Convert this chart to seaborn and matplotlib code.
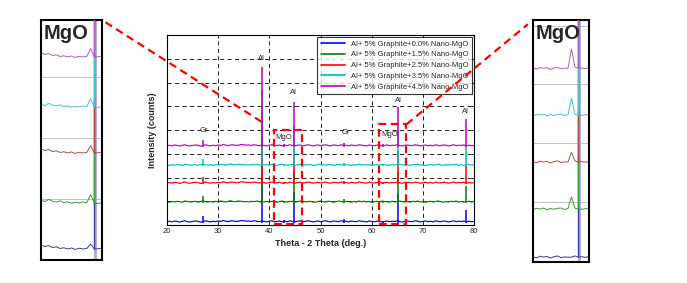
import numpy as np
import pandas as pd
import matplotlib
matplotlib.use("Agg")
import matplotlib.pyplot as plt
import seaborn as sns
from matplotlib.patches import Rectangle
from matplotlib.lines import Line2D

# XRD patterns: Al + 5% graphite with nano-MgO additions
samples = ["Al+ 5% Graphite+0.0% Nano-MgO",
           "Al+ 5% Graphite+1.5% Nano-MgO",
           "Al+ 5% Graphite+2.5% Nano-MgO",
           "Al+ 5% Graphite+3.5% Nano-MgO",
           "Al+ 5% Graphite+4.5% Nano-MgO"]
colors = ["#0000ff", "#008000", "#ff0000", "#00bfbf", "#bf00bf"]
baselines = [0.10, 0.93, 1.73, 2.48, 3.30]

two_theta = np.arange(20, 80.01, 0.5)
# background noise, in hundredths of an intensity unit
noise_a = [4,6,3,7,5,2,6,8,4,3,5,7,6,2,4,8,5,3,6,4,
           7,5,9,6,4,8,7,5,6,9,8,6,7,5,8,6,4,7,5,3,
           6,8,4,5,7,3,6,4,8,5,3,6,7,4,5,8,6,3,5,7,
           4,6,8,5,3,7,6,4,8,5,6,3,7,5,4,8,6,5,3,7,
           5,4,6,8,3,5,7,4,6,5,8,4,3,6,7,5,4,8,6,3,
           5,7,4,6,3,8,5,4,7,6,3,5,8,4,6,5,7,3,6,4,5]
noise_b = [5,3,6,4,7,5,3,8,6,4,5,7,3,6,8,5,4,6,3,7,
           5,8,6,4,7,9,5,6,8,7,5,6,4,7,5,8,6,3,5,6,
           4,7,5,3,6,8,5,4,6,7,3,5,8,4,6,5,7,4,3,6,
           8,5,4,7,6,3,5,8,6,4,7,5,3,6,4,8,5,7,4,6,
           3,5,7,4,8,6,5,3,7,4,6,8,5,4,6,3,7,5,8,4,
           6,3,5,7,4,6,8,5,3,6,4,7,5,8,3,6,4,5,7,4,6]

peak_pos = [27.0, 38.5, 42.9, 44.8, 54.6, 62.3, 65.2, 78.5]
h_00 = [0.30, 2.60, 0.10, 1.30, 0.15, 0.08, 1.20, 0.55]
h_15 = [0.30, 2.80, 0.08, 1.40, 0.15, 0.08, 1.30, 0.70]
h_25 = [0.28, 3.00, 0.08, 1.50, 0.14, 0.08, 1.40, 0.80]
h_35 = [0.30, 3.20, 0.08, 1.70, 0.15, 0.10, 1.50, 0.90]
h_45 = [0.30, 3.37, 0.10, 1.89, 0.15, 0.10, 1.68, 1.15]

phase_labels = ["Gr", "Al", "MgO", "Al", "Gr", "MgO", "Al", "Al"]
label_xy = [(27.2, 3.97), (38.5, 7.0), (42.75, 3.69), (44.8, 5.59),
            (54.9, 3.89), (63.55, 3.83), (65.2, 5.23), (78.3, 4.8)]

# zoomed MgO regions (insets)
inset_colors = ["#3a3a9a", "#3f9a3f", "#b04a4a", "#4cc4c4", "#b05cc0"]
left_theta = np.arange(41.5, 45.51, 0.25)
left_base = [0.046, 0.2375, 0.446, 0.6375, 0.846]
left_bump = [0.02, 0.035, 0.03, 0.035, 0.035]
left_noise_a = [18, 10, 14, 6, 9, 2, 5, 0, 4, -2, 3, 0, 2, 0, 0, 1, 3]
left_noise_b = [12, 6, 15, 8, 4, 9, 1, 5, -1, 3, 0, 4, 1, 0, 0, -2, 2]
right_theta = np.arange(62.0, 66.01, 0.25)
right_base = [0.02, 0.219, 0.413, 0.607, 0.80]
right_shoulder = [0.0, 0.05, 0.04, 0.07, 0.08]
right_noise_a = [2, -3, 4, 0, 3, -4, 2, 5, -2, 1, 0, 0, 5, 0, 2, -1, 3]
right_noise_b = [-2, 3, 0, 4, -3, 2, -1, 3, 4, -2, 2, 0, 3, 0, -1, 2, 0]

heights = [h_00, h_15, h_25, h_35, h_45]
noises = [noise_a, noise_b, noise_a, noise_b, noise_a]

sns.set_style("white")
plt.rcParams["font.family"] = ["Liberation Sans", "DejaVu Sans"]

fig = plt.figure(figsize=(6.87, 2.83), dpi=100)
ax = fig.add_axes([0.2431, 0.2049, 0.4469, 0.6714])

rows = []
for s, b, nz in zip(samples, baselines, noises):
    for t, n in zip(two_theta, nz):
        rows.append({"two_theta": t, "intensity": b + n / 100.0, "sample": s})
df = pd.DataFrame(rows)

sns.lineplot(data=df, x="two_theta", y="intensity", hue="sample",
             palette=colors, linewidth=0.85, estimator=None, sort=False, ax=ax)
for i, line in enumerate(ax.lines[:5]):
    line.set_zorder(2 + i * 0.1)
for i, (b, h, c) in enumerate(zip(baselines, heights, colors)):
    ax.vlines(peak_pos, b, b + np.array(h), color=c, lw=1.1, zorder=2.05 + i * 0.1)

for txt, (x, y) in zip(phase_labels, label_xy):
    ax.text(x, y, txt, fontsize=5.5, ha="center", va="center", zorder=6)

ax.set_xlim(20, 80)
ax.set_ylim(0, 8)
ax.set_xticks(range(20, 81, 10))
ax.set_yticks(range(0, 9))
ax.set_yticklabels([])
ax.grid(True, color="black", ls=(0, (5, 4)), lw=0.6)
ax.tick_params(axis="both", direction="in", length=2, labelsize=5.5,
               top=True, right=True, pad=2)
for sp in ax.spines.values():
    sp.set_color("black")
    sp.set_linewidth(0.8)
ax.set_xlabel("Theta - 2 Theta (deg.)", fontsize=6.5, fontweight="bold", labelpad=3)
ax.set_ylabel("Intensity (counts)", fontsize=6.5, fontweight="bold", labelpad=5)

leg = ax.get_legend()
handles = leg.legend_handles
labels = [t.get_text() for t in leg.get_texts()]
leg.remove()
leg = ax.legend(handles, labels, loc="upper right", fontsize=5.5, frameon=True,
                fancybox=False, edgecolor="black", handlelength=3.2,
                labelspacing=0.45, borderaxespad=0.3, borderpad=0.4)
leg.get_frame().set_linewidth(0.8)
leg.set_zorder(10)
for hd in leg.legend_handles:
    hd.set_linewidth(1.2)

# red dashed boxes around the MgO regions
red_ls = (0, (3.5, 2))
box1 = Rectangle((41.0, 0.03), 5.4, 3.97, fill=False, ec="red", lw=1.6, ls=red_ls, zorder=7)
box2 = Rectangle((61.5, 0.03), 5.3, 4.21, fill=False, ec="red", lw=1.6, ls=red_ls, zorder=7)
ax.add_patch(box1)
ax.add_patch(box2)

# insets
ax_l = fig.add_axes([0.0597, 0.0813, 0.0888, 0.848])
ax_r = fig.add_axes([0.7758, 0.0742, 0.0815, 0.855])


def draw_inset(a, theta, base, noise_pair, extra, extra_idx, peak_x, lav_x, dotted, xlim):
    a.axvline(lav_x, color="#a8a8e0", lw=2.0, zorder=1)
    for i, (b, c) in enumerate(zip(base, inset_colors)):
        nz = noise_pair[i % 2]
        y = np.array([b + n / 1000.0 for n in nz])
        y[extra_idx] += extra[i]
        sns.lineplot(x=theta, y=y, color=c, lw=0.7, ax=a, estimator=None, sort=False)
        top = 1.05 if i == 0 else b + 0.22
        a.vlines(peak_x, b, top, color=c, lw=1.0, zorder=3 + i * 0.1)
    for d in dotted:
        a.axhline(d, color="#707070", ls=(0, (1.2, 1.2)), lw=0.6, zorder=0.5)
    a.set_xlim(*xlim)
    a.set_ylim(0, 1)
    a.set_xticks([])
    a.set_yticks([])
    a.set_xlabel("")
    a.set_ylabel("")
    for sp in a.spines.values():
        sp.set_color("black")
        sp.set_linewidth(1.5)
    a.text(0.05, 0.985, "MgO", transform=a.transAxes, fontsize=14.5,
           fontweight="bold", ha="left", va="top", zorder=8)


draw_inset(ax_l, left_theta, left_base, (left_noise_a, left_noise_b), left_bump, 13,
           45.0, 45.05, [0.254, 0.508, 0.7625], (41.5, 45.5))
draw_inset(ax_r, right_theta, right_base, (right_noise_a, right_noise_b), right_shoulder, 11,
           65.25, 65.3, [0.248, 0.49, 0.735, 0.975], (62.0, 66.0))

# connector lines from boxes to insets (figure coordinates)
to_fig = fig.transFigure.inverted()


def connector(pa, pb, frac_a=0.0, frac_b=1.0):
    a = np.array(to_fig.transform(pa))
    b = np.array(to_fig.transform(pb))
    s = a + (b - a) * frac_a
    e = a + (b - a) * frac_b
    fig.add_artist(Line2D([s[0], e[0]], [s[1], e[1]], color="red", lw=1.6,
                          ls=(0, (3.5, 2.2)), zorder=9))


connector(ax_l.transAxes.transform((1, 1)), ax.transData.transform((41.0, 4.0)), 0.02, 0.94)
connector(ax.transData.transform((66.8, 4.24)), ax_r.transAxes.transform((0, 1)), 0.0, 0.96)

fig.savefig("out.png", dpi=100, facecolor="white")
